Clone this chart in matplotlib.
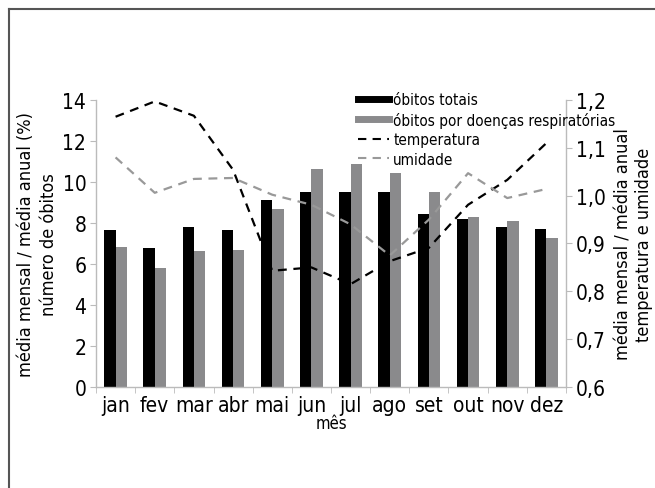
import matplotlib
matplotlib.use("Agg")
import matplotlib.pyplot as plt
import numpy as np
from matplotlib.lines import Line2D
from matplotlib import font_manager

months = ["jan", "fev", "mar", "abr", "mai", "jun", "jul", "ago", "set", "out", "nov", "dez"]
obitos_totais = [7.66, 6.76, 7.79, 7.66, 9.14, 9.53, 9.50, 9.53, 8.45, 8.18, 7.79, 7.69]
obitos_resp = [6.84, 5.82, 6.62, 6.67, 8.68, 10.63, 10.88, 10.42, 9.50, 8.29, 8.10, 7.25]
temperatura = [1.165, 1.197, 1.167, 1.054, 0.843, 0.850, 0.815, 0.863, 0.891, 0.981, 1.033, 1.110]
umidade = [1.080, 1.006, 1.035, 1.037, 1.002, 0.981, 0.940, 0.875, 0.950, 1.047, 0.995, 1.014]
left_ticks = [0, 2, 4, 6, 8, 10, 12, 14]
right_ticks = [0.6, 0.7, 0.8, 0.9, 1.0, 1.1, 1.2]

names = {f.name for f in font_manager.fontManager.ttflist}
fam = ["Liberation Sans Narrow", "DejaVu Sans"] if "Liberation Sans Narrow" in names else ["DejaVu Sans"]
plt.rcParams["font.family"] = fam
if "Liberation Sans Narrow" not in names:
    plt.rcParams["font.stretch"] = "condensed"

W, H = 655, 489
fig = plt.figure(figsize=(W / 100, H / 100), dpi=100)
ax = fig.add_axes([96 / W, 1 - 388 / H, (566 - 96) / W, (388 - 101) / H])
ax2 = ax.twinx()

x = np.arange(len(months))
bw = 0.29
ax.bar(x - bw / 2, obitos_totais, width=bw, color="black", zorder=2)
ax.bar(x + bw / 2, obitos_resp, width=bw, color="#8a8a8c", zorder=2)
ax.set_ylim(0, 14)
ax.set_xlim(-0.5, 11.5)
ax.set_yticks(left_ticks)
ax.set_yticklabels([str(t) for t in left_ticks])
ax.set_xticks(x)
ax.set_xticklabels(months)
ax.set_xticks(np.arange(-0.5, 12, 1), minor=True)
ax.tick_params(axis="x", which="major", length=0, labelsize=15, pad=6)
ax.tick_params(axis="x", which="minor", length=4, color="#bbbbbb", direction="out")
ax.tick_params(axis="y", length=4, color="#bbbbbb", labelsize=15, pad=3)

ax2.plot(x, temperatura, color="black", linestyle=(0, (4, 3)), lw=1.6, zorder=3)
ax2.plot(x, umidade, color="#999999", linestyle=(0, (4, 3)), lw=1.6, zorder=3)
ax2.set_ylim(0.6, 1.2)
ax2.set_yticks(right_ticks)
ax2.set_yticklabels([f"{t:.1f}".replace(".", ",") for t in right_ticks])
ax2.tick_params(axis="y", length=4, color="#bbbbbb", labelsize=15, pad=3)

for a in (ax, ax2):
    a.spines["top"].set_visible(False)
    for s in ("left", "right", "bottom"):
        a.spines[s].set_color("#bbbbbb")
        a.spines[s].set_linewidth(1.0)
ax2.spines["bottom"].set_visible(False)
ax.spines["right"].set_visible(False)
ax2.spines["left"].set_visible(False)

ax.set_ylabel("média mensal / média anual (%)\nnúmero de óbitos", fontsize=13, linespacing=1.35, labelpad=3)
ax2.set_ylabel("média mensal / média anual\ntemperatura e umidade", fontsize=13, linespacing=1.2, labelpad=6)
ax.set_xlabel("mês", fontsize=12, labelpad=-1)

handles = [
    Line2D([0], [0], color="black", lw=5),
    Line2D([0], [0], color="#8a8a8c", lw=5),
    Line2D([0], [0], color="black", lw=1.5, linestyle=(0, (4, 3))),
    Line2D([0], [0], color="#999999", lw=1.5, linestyle=(0, (4, 3))),
]
labels = ["óbitos totais", "óbitos por doenças respiratórias", "temperatura", "umidade"]
leg = ax2.legend(handles, labels, loc="upper left", bbox_to_anchor=((358 - 96) / (566 - 96), 1 + 8 / 287),
                 frameon=False, fontsize=11, handlelength=2.0, handletextpad=0.3,
                 labelspacing=0.3, borderaxespad=0, borderpad=0)
leg.set_zorder(5)

# figure frame lines
fig.add_artist(Line2D([9 / W, 9 / W], [0, 1 - 10 / H], transform=fig.transFigure, color="#555555", lw=1.5))
fig.add_artist(Line2D([9 / W, 1], [1 - 10 / H, 1 - 10 / H], transform=fig.transFigure, color="#555555", lw=1.5))

fig.savefig("out.png", dpi=100)
